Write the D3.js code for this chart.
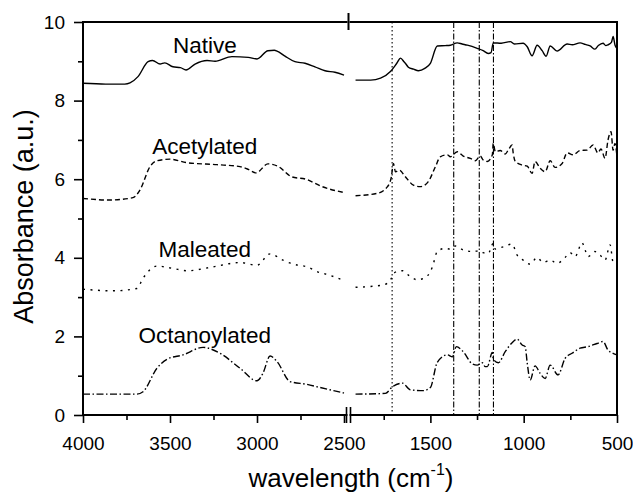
<!DOCTYPE html>
<html><head><meta charset="utf-8">
<script src="https://cdn.jsdelivr.net/npm/d3@7"></script>
<style>
body{margin:0;background:#fff;}
svg{display:block;font-family:"Liberation Sans",Arial,sans-serif;}
</style></head><body>
<svg id="c" width="633" height="495"></svg>
<script>
// ---- data (wavenumber cm-1, absorbance a.u.) ----
const nativeLeft = [[4000,8.44],[3870,8.42],[3760,8.42],[3730,8.45],[3684,8.61],[3626,8.99],[3600,9.02],[3557,8.93],[3530,8.96],[3483,8.86],[3440,8.84],[3408,8.78],[3356,8.93],[3287,9.02],[3241,9.0],[3144,9.12],[3050,9.1],[3000,9.06],[2937,9.27],[2900,9.28],[2885,9.26],[2839,9.13],[2782,8.99],[2724,8.95],[2667,8.86],[2609,8.76],[2552,8.72],[2500,8.65]];
const nativeRight = [[1901,8.52],[1820,8.52],[1767,8.57],[1714,8.74],[1680,8.95],[1660,9.08],[1640,8.98],[1634,8.95],[1618,8.85],[1590,8.8],[1564,8.76],[1530,8.82],[1500,8.95],[1463,9.39],[1420,9.4],[1393,9.41],[1356,9.47],[1330,9.44],[1302,9.41],[1249,9.33],[1217,9.27],[1190,9.2],[1175,9.22],[1163,9.47],[1120,9.46],[1072,9.5],[1050,9.44],[1003,9.46],[981,9.37],[955,9.14],[928,9.41],[901,9.27],[880,9.13],[858,9.39],[821,9.26],[767,9.44],[740,9.42],[698,9.47],[670,9.43],[644,9.39],[618,9.31],[600,9.4],[575,9.46],[560,9.4],[548,9.42],[530,9.48],[521,9.63],[510,9.4],[500,9.33]];
const acetylLeft = [[4000,5.51],[3850,5.47],[3713,5.53],[3672,5.73],[3615,6.32],[3575,6.47],[3500,6.51],[3402,6.42],[3230,6.37],[3098,6.32],[3050,6.25],[3005,6.16],[2937,6.39],[2880,6.33],[2800,6.06],[2720,6.0],[2625,5.81],[2500,5.66]];
const acetylRight = [[1901,5.58],[1784,5.64],[1730,5.81],[1709,6.06],[1698,6.4],[1687,6.19],[1666,6.23],[1634,6.06],[1591,5.85],[1554,5.81],[1511,5.94],[1473,6.32],[1447,6.57],[1409,6.62],[1393,6.57],[1356,6.7],[1324,6.59],[1286,6.53],[1259,6.47],[1233,6.59],[1217,6.49],[1195,6.45],[1168,6.62],[1163,6.91],[1152,6.7],[1126,6.73],[1099,6.64],[1083,6.74],[1062,6.87],[1056,6.66],[1045,6.45],[1008,6.36],[981,6.33],[955,6.15],[939,6.45],[912,6.28],[885,6.19],[858,6.47],[832,6.3],[794,6.4],[767,6.67],[735,6.62],[698,6.73],[660,6.74],[628,6.87],[602,6.67],[586,6.77],[564,6.53],[548,7.0],[532,7.21],[521,6.74],[511,6.91],[500,6.57]];
const maleLeft = [[4000,3.2],[3828,3.16],[3690,3.22],[3655,3.48],[3575,3.79],[3483,3.73],[3402,3.67],[3253,3.77],[3098,3.88],[3000,3.81],[2925,4.1],[2851,3.94],[2793,3.84],[2713,3.77],[2638,3.62],[2609,3.59],[2500,3.42]];
const maleRight = [[1901,3.25],[1751,3.31],[1709,3.48],[1698,3.61],[1650,3.67],[1618,3.56],[1570,3.44],[1516,3.54],[1489,3.77],[1463,4.16],[1420,4.24],[1393,4.22],[1366,4.3],[1324,4.2],[1270,4.16],[1233,4.18],[1217,4.13],[1190,4.11],[1163,4.37],[1152,4.22],[1110,4.28],[1062,4.35],[1035,4.07],[1008,3.96],[965,3.84],[928,4.01],[896,3.88],[858,3.94],[821,3.86],[778,4.01],[751,4.13],[725,4.03],[687,4.38],[671,4.2],[655,4.03],[618,4.16],[591,4.07],[564,3.94],[537,4.33],[521,3.9],[500,3.99]];
const octaLeft = [[4000,0.53],[3690,0.53],[3655,0.59],[3575,1.19],[3517,1.42],[3425,1.53],[3310,1.72],[3213,1.57],[3098,1.19],[3000,0.87],[2966,1.06],[2925,1.5],[2885,1.36],[2810,0.85],[2713,0.78],[2638,0.7],[2560,0.62],[2500,0.56]];
const octaRight = [[1901,0.53],[1741,0.55],[1703,0.72],[1650,0.81],[1607,0.64],[1537,0.62],[1500,0.7],[1463,1.34],[1409,1.53],[1382,1.48],[1361,1.74],[1324,1.61],[1275,1.3],[1249,1.27],[1222,1.33],[1206,1.23],[1195,1.23],[1168,1.59],[1163,1.42],[1136,1.33],[1099,1.61],[1062,1.84],[1035,1.93],[1008,1.78],[992,1.74],[981,1.32],[965,0.89],[939,1.25],[912,1.06],[885,0.93],[858,1.27],[816,1.02],[778,1.44],[741,1.57],[698,1.7],[655,1.74],[607,1.82],[575,1.87],[548,1.65],[521,1.57],[500,1.53]];
const seriesNames = ["Native","Acetylated","Maleated","Octanoylated"];
const labelAnchors = [[3300,9.22],[3300,6.64],[3300,4.03],[3300,1.83]];
const refDotted = [1705];
const refDashDot = [1375,1238,1162];
const leftMajor = [4000,3500,3000,2500];
const leftMinor = [3750,3250,2750];
const rightMajor = [1500,1000,500];
const rightMinor = [1750,1250,750];
const yMajor = [0,2,4,6,8,10];
const yMinor = [1,3,5,7,9];

// ---- layout ----
const svg = d3.select("#c");
const xL = d3.scaleLinear().domain([4000,2500]).range([83,344]);
const xR = d3.scaleLinear().domain([1920,500]).range([352,617]);
const y = d3.scaleLinear().domain([0,10]).range([415,22]);
const pTop = y(10), pBot = y(0), pLeft = xL(4000), pRight = xR(500);
const brk1 = 346.5, brk2 = 350.5;

const dashes = ["none","5,3","2,5.5","7,2.5,1.5,2.5"];
const lineL = d3.line().x(d=>xL(d[0])).y(d=>y(d[1])).curve(d3.curveMonotoneX);
const lineR = d3.line().x(d=>xR(d[0])).y(d=>y(d[1])).curve(d3.curveMonotoneX);
const allL = [nativeLeft,acetylLeft,maleLeft,octaLeft];
const allR = [nativeRight,acetylRight,maleRight,octaRight];

// reference lines
const g = svg.append("g");
g.selectAll(".rd").data(refDotted).join("line")
  .attr("x1",d=>xR(d)).attr("x2",d=>xR(d)).attr("y1",pTop).attr("y2",pBot)
  .attr("stroke","#000").attr("stroke-width",1.1).attr("stroke-dasharray","1.5,2.5");
g.selectAll(".rdd").data(refDashDot).join("line")
  .attr("x1",d=>xR(d)).attr("x2",d=>xR(d)).attr("y1",pTop).attr("y2",pBot)
  .attr("stroke","#000").attr("stroke-width",1.1).attr("stroke-dasharray","6,2,1.5,2");

// curves
allL.forEach((s,i)=>{
  g.append("path").attr("d",lineL(s)).attr("fill","none").attr("stroke","#000")
   .attr("stroke-width",1.4).attr("stroke-dasharray",dashes[i]);
});
allR.forEach((s,i)=>{
  g.append("path").attr("d",lineR(s)).attr("fill","none").attr("stroke","#000")
   .attr("stroke-width",1.4).attr("stroke-dasharray",dashes[i]);
});

// series labels
g.selectAll(".lab").data(seriesNames).join("text")
  .attr("x",(d,i)=>xL(labelAnchors[i][0])).attr("y",(d,i)=>y(labelAnchors[i][1]))
  .attr("text-anchor","middle").attr("font-size","22.5px").attr("fill","#000").text(d=>d);

// axes
const fs = "19px";
function styleAxis(sel){
  sel.select(".domain").remove();
  sel.selectAll("line").attr("stroke","#000").attr("stroke-width",1.6);
  sel.selectAll("text").attr("font-size",fs).attr("fill","#000").attr("font-family","Liberation Sans, Arial, sans-serif");
}
svg.append("g").attr("transform",`translate(0,${pBot})`)
  .call(d3.axisBottom(xL).tickValues(leftMajor).tickSize(8).tickPadding(14).tickFormat(d3.format("d"))).call(styleAxis);
svg.append("g").attr("transform",`translate(0,${pBot})`)
  .call(d3.axisBottom(xL).tickValues(leftMinor).tickSize(5).tickFormat("")).call(styleAxis);
svg.append("g").attr("transform",`translate(0,${pBot})`)
  .call(d3.axisBottom(xR).tickValues(rightMajor).tickSize(8).tickPadding(14).tickFormat(d3.format("d"))).call(styleAxis);
svg.append("g").attr("transform",`translate(0,${pBot})`)
  .call(d3.axisBottom(xR).tickValues(rightMinor).tickSize(5).tickFormat("")).call(styleAxis);
svg.append("g").attr("transform",`translate(${pLeft},0)`)
  .call(d3.axisLeft(y).tickValues(yMajor).tickSize(9).tickPadding(9)).call(styleAxis);
svg.append("g").attr("transform",`translate(${pLeft},0)`)
  .call(d3.axisLeft(y).tickValues(yMinor).tickSize(5).tickFormat("")).call(styleAxis);

// frame with break
const frame = svg.append("g").attr("stroke","#000").attr("stroke-width",2).attr("fill","none");
[[pLeft,pBot,brk1,pBot],[brk2,pBot,pRight,pBot],[pLeft,pTop,brk1,pTop],[brk2,pTop,pRight,pTop],[pLeft,pTop,pLeft,pBot],[pRight,pTop,pRight,pBot]]
  .forEach(s=>frame.append("line").attr("x1",s[0]).attr("y1",s[1]).attr("x2",s[2]).attr("y2",s[3]).attr("stroke-linecap","square"));
[brk1,brk2].forEach(bx=>{
  frame.append("line").attr("x1",bx).attr("x2",bx).attr("y1",pBot-8).attr("y2",pBot+8).attr("stroke-width",1.6);
});
frame.append("line").attr("x1",(brk1+brk2)/2).attr("x2",(brk1+brk2)/2).attr("y1",pTop-9).attr("y2",pTop+8).attr("stroke-width",2);

// axis titles
svg.append("text").attr("transform",`translate(33,${(pTop+pBot)/2-2}) rotate(-90)`)
  .attr("text-anchor","middle").attr("font-size","27px").attr("fill","#000").text("Absorbance (a.u.)");
const xt = svg.append("text").attr("x",(pLeft+pRight)/2+1).attr("y",487)
  .attr("text-anchor","middle").attr("font-size","26px").attr("fill","#000");
xt.append("tspan").text("wavelength (cm");
xt.append("tspan").attr("font-size","16px").attr("dy","-12").text("-1");
xt.append("tspan").attr("dy","12").text(")");
</script></body></html>
